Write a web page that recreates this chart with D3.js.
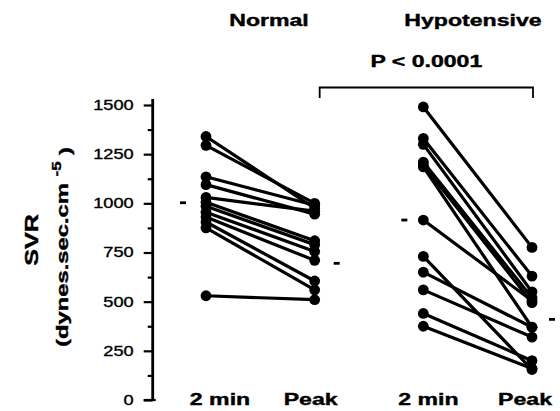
<!DOCTYPE html>
<html>
<head>
<meta charset="utf-8">
<script src="https://cdn.jsdelivr.net/npm/d3@7"></script>
<style>
  html, body { margin: 0; padding: 0; background: #fff; }
  svg { display: block; font-family: "Liberation Sans", Arial, Helvetica, sans-serif; }
</style>
</head>
<body>
<div id="chart"></div>
<script>
  // values (SVR, dynes.sec.cm-5)
  var columns = ['N2', 'NP', 'H2', 'HP'];
  var columnLabels = ['2 min', 'Peak', '2 min', 'Peak'];
  var groups = ['Normal', 'Hypotensive'];
  var normal2min = [1340, 1295, 1135, 1095, 1030, 1005, 985, 955, 930, 905, 875, 530];
  var normalPeak = [975, 1000, 990, 945, 960, 810, 790, 755, 710, 605, 560, 510];
  var hypo2min = [1490, 1330, 1300, 1210, 1195, 1185, 915, 730, 650, 560, 440, 375];
  var hypoPeak = [776, 630, 550, 520, 495, 370, 505, 155, 370, 320, 200, 160];
  var groupMeans = [1003, 695, 915, 410];
  var yTicks = [0, 250, 500, 750, 1000, 1250, 1500];
  var yMinor = [125, 375, 625, 875, 1125, 1375];
  var pLabel = 'P < 0.0001';

  var width = 560, height = 411;
  var stretch = 1.4;

  var svg = d3.select('#chart').append('svg')
    .attr('width', width).attr('height', height)
    .attr('viewBox', [0, 0, width, height]);

  var x = d3.scalePoint().domain(columns).range([206, 532]);
  var y = d3.scaleLinear().domain([0, 1500]).range([400, 105]);
  var axisX = 152.7;

  // y axis
  var major = d3.axisLeft(y).tickValues(yTicks).tickFormat(d3.format('d'))
    .tickSize(9).tickPadding(10).tickSizeOuter(0);
  var minor = d3.axisLeft(y).tickValues(yMinor).tickSize(5).tickFormat('').tickSizeOuter(0);
  var ax = svg.append('g').attr('transform', 'translate(' + axisX + ',0)').call(major);
  svg.append('g').attr('transform', 'translate(' + axisX + ',0)').call(minor)
    .call(function (g) { g.select('.domain').remove(); });
  ax.select('.domain').remove();
  ax.append('line').attr('x1', 0).attr('x2', 0).attr('y1', y(1500) - 6).attr('y2', y(0))
    .attr('stroke', '#000').attr('stroke-width', 2.8);
  ax.append('line').attr('x1', -9).attr('x2', 3).attr('y1', y(0)).attr('y2', y(0))
    .attr('stroke', '#000').attr('stroke-width', 2.2);
  svg.selectAll('.tick line').attr('stroke', '#000').attr('stroke-width', 2.2);
  ax.selectAll('.tick text')
    .attr('x', 0)
    .attr('transform', 'translate(-19,0) scale(1.3,1)')
    .attr('font-size', 14)
    .attr('font-family', '"Liberation Sans", Arial, sans-serif')
    .attr('fill', '#000')
    .attr('stroke', '#000').attr('stroke-width', 0.35);

  // y axis title
  svg.append('text')
    .attr('transform', 'translate(38,240) rotate(-90) scale(' + stretch + ',1)')
    .attr('text-anchor', 'middle').attr('font-weight', 'bold').attr('font-size', 18)
    .attr('stroke', '#000').attr('stroke-width', 0.4)
    .text('SVR');
  var t2 = svg.append('text')
    .attr('transform', 'translate(68,247) rotate(-90) scale(' + stretch + ',1)')
    .attr('text-anchor', 'middle').attr('font-weight', 'bold').attr('font-size', 17)
    .attr('stroke', '#000').attr('stroke-width', 0.4);
  t2.append('tspan').text('(dynes.sec.cm ');
  t2.append('tspan').attr('font-size', 12).attr('dy', '-0.6em').text('-5');
  t2.append('tspan').attr('dy', '0.6em').text(' )');

  // subject lines
  var pairs = [];
  normal2min.forEach(function (v, i) { pairs.push({ a: 'N2', b: 'NP', va: v, vb: normalPeak[i] }); });
  hypo2min.forEach(function (v, i) { pairs.push({ a: 'H2', b: 'HP', va: v, vb: hypoPeak[i] }); });

  svg.append('g').attr('stroke', '#000').attr('stroke-width', 3.2).attr('stroke-linecap', 'round')
    .selectAll('line').data(pairs).join('line')
    .attr('x1', function (d) { return x(d.a); })
    .attr('y1', function (d) { return y(d.va); })
    .attr('x2', function (d) { return x(d.b); })
    .attr('y2', function (d) { return y(d.vb); });

  var dots = [];
  pairs.forEach(function (d) {
    dots.push({ c: d.a, v: d.va });
    dots.push({ c: d.b, v: d.vb });
  });
  svg.append('g').attr('fill', '#000')
    .selectAll('circle').data(dots).join('circle')
    .attr('cx', function (d) { return x(d.c); })
    .attr('cy', function (d) { return y(d.v); })
    .attr('r', 5.4);

  // group mean marks
  var meanOffset = [-23, 22, -19, 20];
  svg.append('g').attr('stroke', '#000').attr('stroke-width', 2.8)
    .selectAll('line').data(groupMeans).join('line')
    .attr('x1', function (d, i) { return x(columns[i]) + meanOffset[i] - 3; })
    .attr('x2', function (d, i) { return x(columns[i]) + meanOffset[i] + 3; })
    .attr('y1', function (d) { return y(d); })
    .attr('y2', function (d) { return y(d); });

  // column labels
  var labelOffset = [14, -4, 5, -7];
  svg.append('g').attr('font-weight', 'bold').attr('font-size', 16.5).attr('text-anchor', 'middle')
    .attr('stroke', '#000').attr('stroke-width', 0.4)
    .selectAll('text').data(columnLabels).join('text')
    .attr('transform', function (d, i) {
      return 'translate(' + (x(columns[i]) + labelOffset[i]) + ',405) scale(' + stretch + ',1)';
    })
    .text(function (d) { return d; });

  // group titles
  var groupCenter = [269, 473];
  svg.append('g').attr('font-weight', 'bold').attr('font-size', 16.5).attr('text-anchor', 'middle')
    .attr('stroke', '#000').attr('stroke-width', 0.4)
    .selectAll('text').data(groups).join('text')
    .attr('transform', function (d, i) { return 'translate(' + groupCenter[i] + ',26) scale(' + stretch + ',1)'; })
    .text(function (d) { return d; });

  // significance bracket
  var bx0 = x('NP') + 5, bx1 = x('HP') + 1;
  svg.append('path')
    .attr('d', 'M' + bx0 + ',98V87.5H' + bx1 + 'V98')
    .attr('fill', 'none').attr('stroke', '#000').attr('stroke-width', 1.8);
  svg.append('text')
    .attr('transform', 'translate(' + ((bx0 + bx1) / 2) + ',67) scale(' + stretch + ',1)')
    .attr('text-anchor', 'middle').attr('font-weight', 'bold').attr('font-size', 16.5)
    .attr('stroke', '#000').attr('stroke-width', 0.4)
    .text(pLabel);
</script>
</body>
</html>
